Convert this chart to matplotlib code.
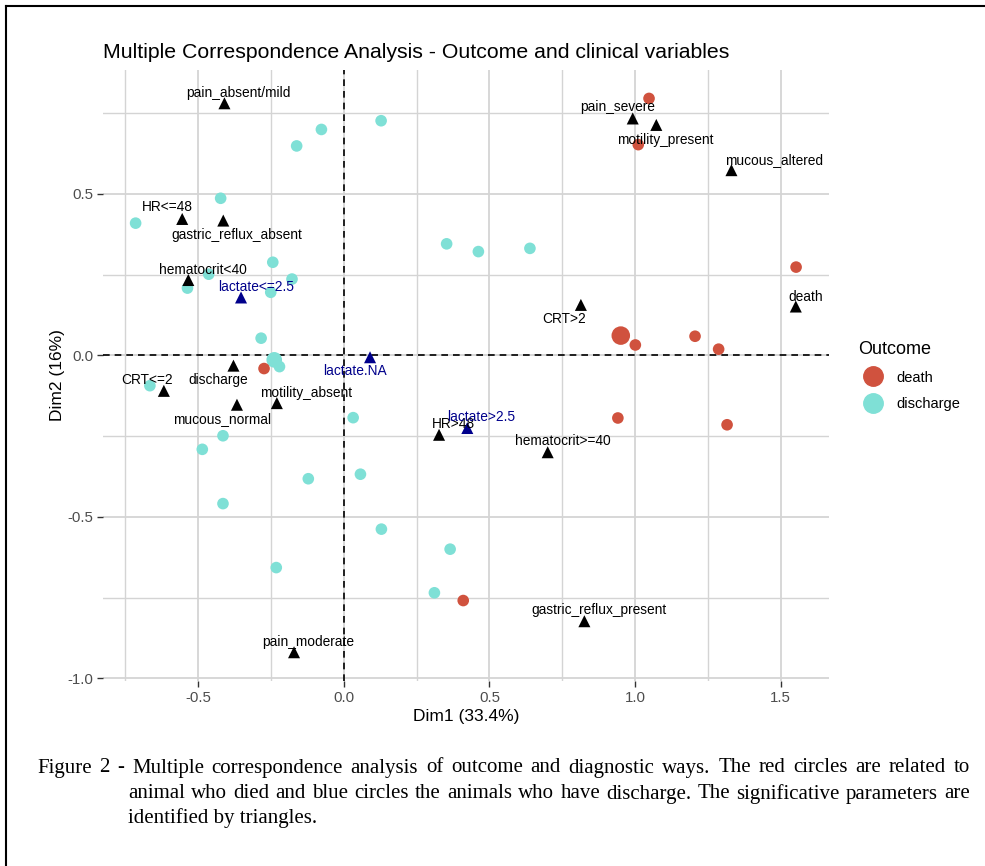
import numpy as np
import matplotlib
matplotlib.use("Agg")
import matplotlib.pyplot as plt
from matplotlib.lines import Line2D
from matplotlib.ticker import MultipleLocator, FormatStrFormatter

plt.rcParams['font.family'] = ['Liberation Sans', 'DejaVu Sans']

# variable categories (triangles)
var_names = ["pain_absent/mild", "pain_severe", "motility_present", "mucous_altered",
             "HR<=48", "gastric_reflux_absent", "hematocrit<40", "lactate<=2.5",
             "CRT>2", "death", "lactate.NA", "discharge", "CRT<=2", "mucous_normal",
             "motility_absent", "HR>48", "lactate>2.5", "hematocrit>=40",
             "gastric_reflux_present", "pain_moderate"]
var_x = [-0.410, 0.992, 1.073, 1.331, -0.555, -0.414, -0.534, -0.353, 0.814, 1.552,
         0.090, -0.379, -0.618, -0.367, -0.230, 0.327, 0.424, 0.700, 0.826, -0.171]
var_y = [0.780, 0.733, 0.713, 0.573, 0.422, 0.417, 0.233, 0.179, 0.156, 0.151,
         -0.006, -0.032, -0.110, -0.153, -0.148, -0.246, -0.225, -0.300, -0.823, -0.919]
# supplementary variable (lactate) drawn in blue
var_supp = [False, False, False, False, False, False, False, True, False, False,
            True, False, False, False, False, False, True, False, False, False]

# individuals, death
death_x = [1.048, 1.011, 1.553, 0.951, 1.001, 1.206, 1.287, 0.941, 1.316, -0.274, 0.410]
death_y = [0.795, 0.652, 0.273, 0.061, 0.032, 0.059, 0.019, -0.194, -0.215, -0.041, -0.759]
death_n = [1, 1, 1, 3, 1, 1, 1, 1, 1, 1, 1]

# individuals, discharge
disch_x = [0.128, -0.077, -0.162, -0.423, -0.715, -0.244, -0.464, -0.178, -0.537, -0.251,
           0.353, 0.462, 0.639, -0.284, -0.239, -0.221, -0.666, 0.032, -0.415, -0.486,
           -0.122, 0.057, -0.415, 0.129, 0.365, -0.232, 0.311]
disch_y = [0.726, 0.699, 0.648, 0.486, 0.409, 0.288, 0.251, 0.236, 0.208, 0.195,
           0.345, 0.321, 0.331, 0.053, -0.014, -0.035, -0.094, -0.193, -0.249, -0.291,
           -0.382, -0.368, -0.459, -0.538, -0.600, -0.657, -0.735]
disch_n = [1] * 14 + [2] + [1] * 12

# label offsets in pixels (dx right, dy down)
label_off = [(14, -10), (-15, -11), (9, 15), (43, -10), (-15, -12), (14, 14), (15, -10),
             (15, -10), (-17, 14), (10, -10), (-15, 14), (-15, 14), (-17, -11), (-15, 14),
             (29, -10), (14, -11), (14, -11), (15, -11), (15, -11), (14, -10)]

caption = ["Figure 2 - Multiple correspondence analysis of outcome and diagnostic ways. "
           "The red circles are related to",
           "animal who died and blue circles the animals who have discharge. "
           "The significative parameters are",
           "identified by triangles."]

red = "#D0523E"
cyan = "#7FE0D6"
navy = "#00008B"

fig = plt.figure(figsize=(9.85, 8.66), dpi=100)
ax = fig.add_axes([103 / 985, 1 - 681 / 866, 726 / 985, 611 / 866])

def psize(n):
    return 70 * np.power(np.array(n, dtype=float), 0.85)

ax.scatter(disch_x, disch_y, s=psize(disch_n), color=cyan, edgecolors='none', zorder=3)
ax.scatter(death_x, death_y, s=psize(death_n), color=red, edgecolors='none', zorder=3)

for name, x, y, supp, (dx, dy) in zip(var_names, var_x, var_y, var_supp, label_off):
    c = navy if supp else "black"
    ax.scatter([x], [y], marker='^', s=75, color=c, edgecolors='none', zorder=4)
    ax.annotate(name, (x, y), xytext=(dx, -dy), textcoords='offset pixels',
                ha='center', va='center', fontsize=9.9, color=c, zorder=5)

ax.axhline(0, color='black', lw=1.2, ls=(0, (4, 3)), zorder=2)
ax.axvline(0, color='black', lw=1.2, ls=(0, (4, 3)), zorder=2)

ax.set_xlim(-0.827, 1.666)
ax.set_ylim(-1.008, 0.883)
ax.xaxis.set_major_locator(MultipleLocator(0.5))
ax.yaxis.set_major_locator(MultipleLocator(0.5))
ax.xaxis.set_minor_locator(MultipleLocator(0.25))
ax.yaxis.set_minor_locator(MultipleLocator(0.25))
ax.xaxis.set_major_formatter(FormatStrFormatter('%.1f'))
ax.yaxis.set_major_formatter(FormatStrFormatter('%.1f'))
ax.grid(True, which='major', color='#d4d4d4', lw=1.3, zorder=0)
ax.grid(True, which='minor', color='#d4d4d4', lw=1.0, zorder=0)
ax.set_axisbelow(True)
for sp in ax.spines.values():
    sp.set_visible(False)
ax.tick_params(which='major', length=4, width=1, color='#333333', labelsize=10.8,
               labelcolor='#4d4d4d', pad=3)
ax.tick_params(which='minor', length=0)

ax.set_xlabel("Dim1 (33.4%)", fontsize=12.5, labelpad=3)
ax.set_ylabel("Dim2 (16%)", fontsize=12.5, labelpad=2)
ax.set_title("Multiple Correspondence Analysis - Outcome and clinical variables",
             fontsize=15.3, loc='left', pad=9)

handles = [Line2D([], [], marker='o', ls='none', color=red, markersize=14),
           Line2D([], [], marker='o', ls='none', color=cyan, markersize=14)]
ax.legend(handles, ["death", "discharge"], title="Outcome", loc='upper left',
          bbox_to_anchor=(845 / 985, 1 - 328 / 866), bbox_transform=fig.transFigure,
          frameon=False, fontsize=10.5, title_fontsize=13, handletextpad=0.6,
          labelspacing=0.85, alignment='left')

# caption, justified to the right edge like the source document
cap_font = ['Liberation Serif', 'DejaVu Serif']
cap_size = 15
fig.canvas.draw()
renderer = fig.canvas.get_renderer()
right_px = 970
for i, (line, left_px, y_px) in enumerate(zip(caption, [37, 128, 128], [768, 794, 818])):
    yf = 1 - y_px / 866
    if i == len(caption) - 1:
        fig.text(left_px / 985, yf, line, fontsize=cap_size, family=cap_font,
                 va='center', ha='left')
        continue
    words = line.split(" ")
    texts = [fig.text(0, yf, w, fontsize=cap_size, family=cap_font, va='center', ha='left')
             for w in words]
    widths = [t.get_window_extent(renderer).width for t in texts]
    gap = (right_px - left_px - sum(widths)) / (len(words) - 1)
    xpos = left_px
    for t, w in zip(texts, widths):
        t.set_x(xpos / 985)
        xpos += w + gap

# page border
fig.add_artist(Line2D([6 / 985, 6 / 985], [0, 1 - 6 / 866], transform=fig.transFigure,
                      color='black', lw=1.5))
fig.add_artist(Line2D([6 / 985, 1], [1 - 6 / 866, 1 - 6 / 866], transform=fig.transFigure,
                      color='black', lw=1.5))

fig.savefig("out.png", dpi=100, facecolor='white')
